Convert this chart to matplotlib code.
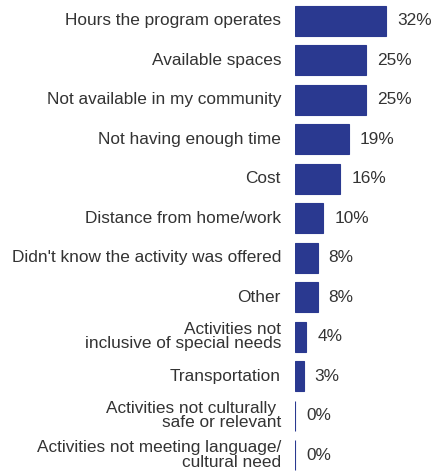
import matplotlib
matplotlib.use("Agg")
import matplotlib.pyplot as plt

categories = [
    "Hours the program operates",
    "Available spaces",
    "Not available in my community",
    "Not having enough time",
    "Cost",
    "Distance from home/work",
    "Didn't know the activity was offered",
    "Other",
    "Activities not\ninclusive of special needs",
    "Transportation",
    "Activities not culturally \nsafe or relevant",
    "Activities not meeting language/\ncultural need",
]
values = [32, 25, 25, 19, 16, 10, 8, 8, 4, 3, 0, 0]
value_labels = ["32%", "25%", "25%", "19%", "16%", "10%", "8%", "8%", "4%", "3%", "0%", "0%"]

plt.rcParams['font.family'] = ['Liberation Sans', 'DejaVu Sans']
W, H = 437, 473
fig = plt.figure(figsize=(W/100, H/100), dpi=100)
ax = fig.add_axes([295/W, 0, 142/W, 1])
bar_color = '#2a3990'
text_color = '#333333'
y = list(range(len(categories)))
ax.barh(y, values, height=0.76, color=bar_color, edgecolor=bar_color, linewidth=0.8)
ax.set_xlim(0, 50)
ax.set_ylim(11.456, -0.532)
for yi, v, lab, cat in zip(y, values, value_labels, categories):
    ax.annotate(lab, xy=(v, yi), xytext=(11, 0), textcoords='offset pixels',
                va='center', ha='left', fontsize=12.4, color=text_color,
                annotation_clip=False)
    ax.annotate(cat, xy=(0, yi), xytext=(-14, 0), textcoords='offset pixels',
                ha='right', va='center', fontsize=12.4, color=text_color,
                linespacing=0.92, annotation_clip=False, multialignment='right')
ax.axis('off')
fig.savefig('out.png', dpi=100)
